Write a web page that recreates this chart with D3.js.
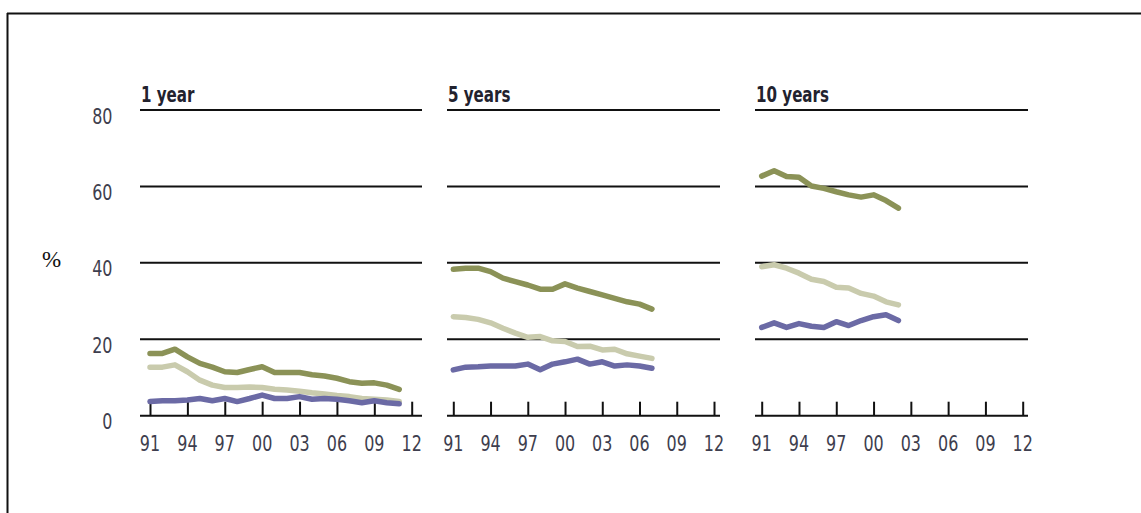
<!DOCTYPE html>
<html>
<head>
<meta charset="utf-8">
<script src="https://cdn.jsdelivr.net/npm/d3@7"></script>
<style>
  html, body { margin: 0; padding: 0; background: #fff; }
  svg { display: block; }
  .narrow { font-family: "DejaVu Sans", "Liberation Sans", sans-serif; }
</style>
</head>
<body>
<svg id="chart" width="1141" height="513"></svg>
<script>
// Panels: share by follow-up horizon, per year of start
const panelTitles = ["1 year", "5 years", "10 years"];
const yTicks = [0, 20, 40, 60, 80];
const xTickYears = [1991, 1994, 1997, 2000, 2003, 2006, 2009, 2012];
const xTickLabels = ["91", "94", "97", "00", "03", "06", "09", "12"];

// 1 year horizon, 1991–2011
const years1 = d3.range(1991, 2012);
const oneYearDark  = [16.3, 16.3, 17.4, 15.4, 13.7, 12.7, 11.5, 11.3, 12.1, 12.8, 11.3, 11.3, 11.3, 10.7, 10.4, 9.8, 8.9, 8.5, 8.6, 8.0, 6.9];
const oneYearLight = [12.7, 12.7, 13.3, 11.5, 9.3, 8.0, 7.4, 7.4, 7.5, 7.4, 6.9, 6.7, 6.4, 6.0, 5.7, 5.3, 5.0, 4.5, 4.3, 4.1, 3.7];
const oneYearBlue  = [3.7, 3.9, 3.9, 4.1, 4.5, 3.9, 4.5, 3.7, 4.5, 5.4, 4.5, 4.5, 5.0, 4.3, 4.5, 4.3, 3.9, 3.4, 3.9, 3.4, 3.1];

// 5 year horizon, 1991–2007
const years5 = d3.range(1991, 2008);
const fiveYearDark  = [38.3, 38.6, 38.6, 37.7, 36.0, 35.1, 34.2, 33.1, 33.1, 34.5, 33.4, 32.5, 31.6, 30.7, 29.8, 29.2, 27.9];
const fiveYearLight = [25.9, 25.7, 25.2, 24.3, 22.9, 21.6, 20.5, 20.7, 19.6, 19.4, 18.1, 18.2, 17.2, 17.4, 16.2, 15.6, 15.0];
const fiveYearBlue  = [12.0, 12.7, 12.8, 13.0, 13.0, 13.0, 13.5, 12.0, 13.5, 14.1, 14.8, 13.5, 14.1, 13.0, 13.3, 13.0, 12.4];

// 10 year horizon, 1991–2002
const years10 = d3.range(1991, 2003);
const tenYearDark  = [62.7, 64.1, 62.6, 62.4, 60.1, 59.5, 58.6, 57.8, 57.2, 57.8, 56.3, 54.3];
const tenYearLight = [39.0, 39.5, 38.6, 37.3, 35.7, 35.1, 33.6, 33.4, 32.0, 31.3, 29.8, 29.0];
const tenYearBlue  = [23.1, 24.3, 23.1, 24.1, 23.4, 23.1, 24.6, 23.6, 24.9, 25.9, 26.4, 24.9];

const seriesColors = ["#8b9257", "#c9cbad", "#6b6aa5"];

const panels = [
  { title: panelTitles[0], years: years1,  series: [oneYearDark, oneYearLight, oneYearBlue] },
  { title: panelTitles[1], years: years5,  series: [fiveYearDark, fiveYearLight, fiveYearBlue] },
  { title: panelTitles[2], years: years10, series: [tenYearDark, tenYearLight, tenYearBlue] }
];

// Layout of each panel: gridline extent and tick range
const layout = [
  { gridL: 140, gridR: 422, x0: 150, x1: 411.7 },
  { gridL: 447, gridR: 720, x0: 453.3, x1: 714 },
  { gridL: 755, gridR: 1028, x0: 761.7, x1: 1022.7 }
];

// Condensed lettering: horizontally squeezed text anchored at (x, y)
const SQUEEZE = 0.76;
function narrowText(sel, sx = SQUEEZE) {
  return sel
    .attr("class", "narrow")
    .attr("transform", d => `translate(${d.tx},${d.ty}) scale(${sx},1)`);
}

const svg = d3.select("#chart");

// Frame (top and left rules)
svg.append("line").attr("x1", 7).attr("x2", 1141).attr("y1", 13.5).attr("y2", 13.5)
  .attr("stroke", "#111").attr("stroke-width", 2);
svg.append("line").attr("x1", 7.5).attr("x2", 7.5).attr("y1", 13).attr("y2", 513)
  .attr("stroke", "#111").attr("stroke-width", 2);

const y = d3.scaleLinear().domain([0, 80]).range([415.7, 110]);

// Shared y-axis labels on the left
svg.append("g").selectAll("text")
  .data(yTicks.map(v => ({ v, tx: 112.5, ty: y(v) + 13.5 })))
  .join("text")
  .call(narrowText)
  .attr("font-size", 21)
  .attr("fill", "#3e3e4e")
  .attr("text-anchor", "end")
  .text(d => d.v);

svg.append("text")
  .attr("x", 42).attr("y", 267)
  .attr("font-family", "'Liberation Serif', 'Times New Roman', serif")
  .attr("font-size", 23)
  .attr("fill", "#111")
  .text("%");

panels.forEach((p, i) => {
  const L = layout[i];
  const x = d3.scaleLinear().domain([1991, 2012]).range([L.x0, L.x1]);
  const g = svg.append("g");

  // Horizontal gridlines at 20..80
  g.selectAll("line.grid").data(yTicks.filter(v => v > 0)).join("line")
    .attr("class", "grid")
    .attr("x1", L.gridL).attr("x2", L.gridR)
    .attr("y1", d => y(d)).attr("y2", d => y(d))
    .attr("stroke", "#111").attr("stroke-width", 2);

  // Baseline axis with upward ticks
  const xAxis = d3.axisTop(x).tickValues(xTickYears).tickSize(14).tickSizeOuter(0).tickFormat("");
  const xg = g.append("g").attr("transform", `translate(0,${y(0)})`).call(xAxis);
  xg.select(".domain").remove();
  xg.selectAll(".tick line").attr("stroke", "#111").attr("stroke-width", 2);
  g.append("line")
    .attr("x1", L.gridL).attr("x2", L.gridR)
    .attr("y1", y(0)).attr("y2", y(0))
    .attr("stroke", "#111").attr("stroke-width", 2);

  // Year labels below the axis
  g.selectAll("text.xl")
    .data(xTickYears.map((yr, k) => ({ label: xTickLabels[k], tx: x(yr), ty: 451 })))
    .join("text")
    .call(narrowText)
    .attr("text-anchor", "middle")
    .attr("font-size", 21)
    .attr("fill", "#3e3e4e")
    .text(d => d.label);

  // Panel title
  g.selectAll("text.title")
    .data([{ t: p.title, tx: L.gridL + 1, ty: 102 }])
    .join("text")
    .call(narrowText, 0.72)
    .attr("font-size", 21)
    .attr("font-weight", "bold")
    .attr("fill", "#22222e")
    .text(d => d.t);

  // Series lines
  const line = d3.line()
    .x((d, k) => x(p.years[k]))
    .y(d => y(d));
  p.series.forEach((vals, s) => {
    g.append("path")
      .datum(vals)
      .attr("d", line)
      .attr("fill", "none")
      .attr("stroke", seriesColors[s])
      .attr("stroke-width", 5.5)
      .attr("stroke-linejoin", "round")
      .attr("stroke-linecap", "round");
  });
});
</script>
</body>
</html>
